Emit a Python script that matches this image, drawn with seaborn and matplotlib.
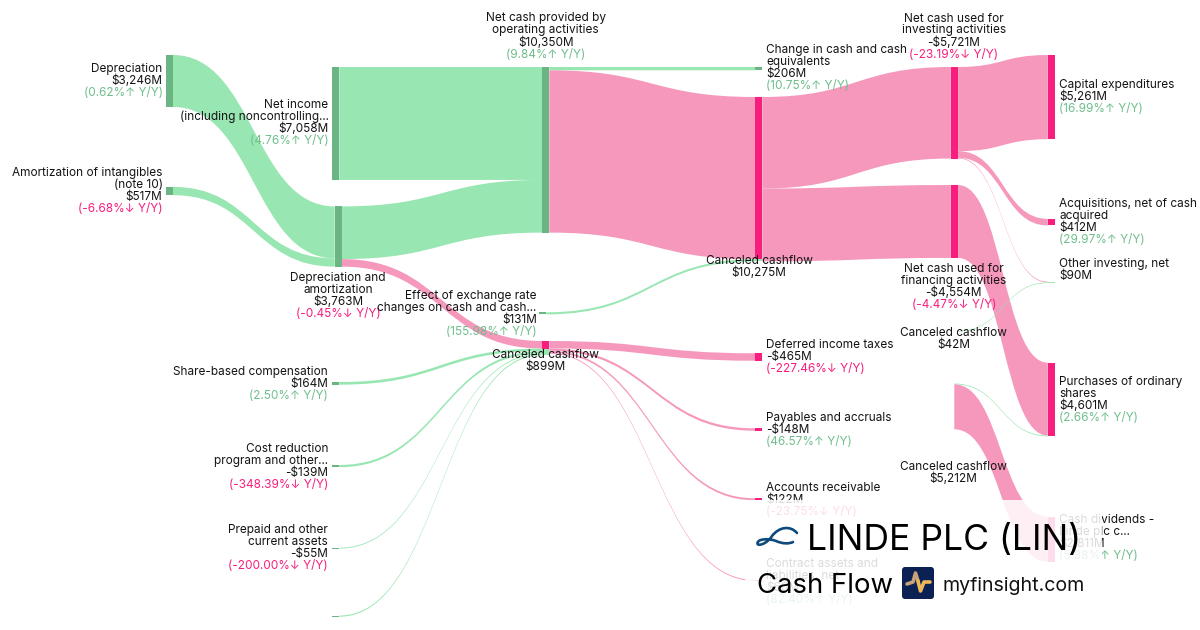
import matplotlib
matplotlib.use('Agg')
import matplotlib.pyplot as plt
from matplotlib.patches import Rectangle, PathPatch, FancyBboxPatch
from matplotlib.path import Path
import seaborn as sns

sns.set_theme(style='white')
plt.rcParams['font.family'] = ['Inter', 'DejaVu Sans']

# Data: values in $M, as printed on the chart
node_names = [
    'dep', 'amort', 'net_income', 'dna', 'sbc', 'cost', 'prepaid', 'other_op',
    'op', 'fx', 'c899', 'change', 'c10275', 'deferred', 'payables', 'ar', 'contract',
    'investing', 'financing', 'c42', 'c5212',
    'capex', 'acq', 'other_inv', 'buyback', 'dividends',
]
node_amounts = [
    3246, 517, 7058, 3763, 164, -139, -55, 70,
    10350, 131, 899, 206, 10275, -465, -148, 122, 60,
    -5721, -4554, 42, 5212,
    5261, 412, 90, 4601, 2811,
]
node_yoy = [
    0.62, -6.68, 4.76, -0.45, 2.50, -348.39, -200.00, None,
    9.84, 155.98, None, 10.75, None, -227.46, 46.57, -23.75, 82.40,
    -23.19, -4.47, None, None,
    16.99, 29.97, None, 2.66, 5.88,
]
node_titles = {
    'dep': 'Depreciation',
    'amort': 'Amortization of intangibles\n(note 10)',
    'net_income': 'Net income\n(including noncontrolling...',
    'dna': 'Depreciation and\namortization',
    'sbc': 'Share-based compensation',
    'cost': 'Cost reduction\nprogram and other...',
    'prepaid': 'Prepaid and other\ncurrent assets',
    'op': 'Net cash provided by\noperating activities',
    'fx': 'Effect of exchange rate\nchanges on cash and cash...',
    'c899': 'Canceled cashflow',
    'change': 'Change in cash and cash\nequivalents',
    'c10275': 'Canceled cashflow',
    'deferred': 'Deferred income taxes',
    'payables': 'Payables and accruals',
    'ar': 'Accounts receivable',
    'contract': 'Contract assets and\nliabilities, net',
    'investing': 'Net cash used for\ninvesting activities',
    'financing': 'Net cash used for\nfinancing activities',
    'c42': 'Canceled cashflow',
    'c5212': 'Canceled cashflow',
    'capex': 'Capital expenditures',
    'acq': 'Acquisitions, net of cash\nacquired',
    'other_inv': 'Other investing, net',
    'buyback': 'Purchases of ordinary\nshares',
    'dividends': 'Cash dividends -\nLinde plc c...',
}

link_sources = ['dep', 'amort', 'net_income', 'dna', 'dna', 'sbc', 'cost', 'prepaid', 'other_op',
                'op', 'op', 'fx', 'c899', 'c899', 'c899', 'c899',
                'c10275', 'c10275', 'investing', 'investing', 'investing',
                'financing', 'c42', 'c5212', 'c5212']
link_targets = ['dna', 'dna', 'op', 'op', 'c899', 'c899', 'c899', 'c899', 'c899',
                'change', 'c10275', 'c10275', 'deferred', 'payables', 'ar', 'contract',
                'investing', 'financing', 'capex', 'acq', 'other_inv',
                'buyback', 'other_inv', 'buyback', 'dividends']
link_values = [3246, 517, 7058, 3292, 471, 164, 139, 55, 70,
               206, 10144, 131, 465, 148, 122, 60,
               5721, 4554, 5261, 412, 48,
               4554, 42, 47, 2811]
link_kinds = ['g', 'g', 'g', 'g', 'p', 'g', 'g', 'g', 'g',
              'g', 'p', 'g', 'p', 'p', 'p', 'p',
              'p', 'p', 'p', 'p', 'p',
              'p', 'g', 'g', 'p']

# Layout: (node, x, gap above it) per column, in pixels
SCALE = 0.016
NODE_W = 7.3
columns = [
    [('dep', 165.7, 55), ('amort', 165.7, 80)],
    [('net_income', 332, 67), ('dna', 334.7, 26.5), ('sbc', 332, 115.4), ('cost', 332, 80.3),
     ('prepaid', 332, 80.5), ('other_op', 332, 67)],
    [('op', 542, 67), ('fx', 539, 79.7), ('c899', 542, 26.6)],
    [('change', 755, 67), ('c10275', 755, 26.7), ('deferred', 755, 91.9), ('payables', 755, 67.6),
     ('ar', 755, 67.6), ('contract', 755, 79.7)],
    [('investing', 950.8, 67), ('financing', 950.8, 26.5), ('c42', 950.8, 73), ('c5212', 947, 52)],
    [('capex', 1047.8, 55), ('acq', 1047.8, 79.7), ('other_inv', 1047.8, 56.2),
     ('buyback', 1047.8, 79.6), ('dividends', 1047.8, 80.4)],
]
hidden_nodes = ['c42', 'c5212']

# Label placement: node -> (anchor, x, centre of first line)
label_pos = {
    'dep': ('right', 162.5, 68), 'amort': ('right', 162.5, 172),
    'net_income': ('right', 328.5, 104), 'dna': ('center', 338, 277),
    'sbc': ('right', 328, 370.7), 'cost': ('right', 328, 448), 'prepaid': ('right', 328, 529),
    'op': ('center', 545.7, 17.5), 'fx': ('right', 536.7, 295), 'c899': ('center', 545.7, 353.7),
    'change': ('left', 766, 48.7), 'c10275': ('center', 759, 260),
    'deferred': ('left', 766, 343.7), 'payables': ('left', 766, 416.7),
    'ar': ('left', 766, 486.7), 'contract': ('left', 766, 562.7),
    'investing': ('center', 953.7, 17.5), 'financing': ('center', 953.7, 267.7),
    'c42': ('center', 953.7, 331.7), 'c5212': ('center', 953.7, 465.7),
    'capex': ('left', 1059, 83.7), 'acq': ('left', 1059, 203), 'other_inv': ('left', 1059, 262.7),
    'buyback': ('left', 1059, 380.7), 'dividends': ('left', 1059, 519.3),
}

link_colors = {'g': '#98E6B2', 'p': '#F598BC'}
node_colors = {'g': '#6AB583', 'p': '#F81E7E'}
TEXT_GREEN = '#6FBE8C'
TEXT_PINK = '#F81E7E'
TEXT_DARK = '#141414'
LINE_H = 12
FONT = 8.5

fig, ax = plt.subplots(figsize=(12, 6.3), dpi=100)
fig.subplots_adjust(0, 0, 1, 1)
ax.set_xlim(0, 1200)
ax.set_ylim(630, 0)
ax.set(xticks=[], yticks=[])
sns.despine(ax=ax, left=True, bottom=True)

amounts = dict(zip(node_names, node_amounts))
yoys = dict(zip(node_names, node_yoy))

# stack the nodes of each column
node_x, node_top = {}, {}
for col in columns:
    y = 0
    for name, x, gap in col:
        node_x[name] = x
        node_top[name] = y + gap
        y = node_top[name] + abs(amounts[name]) * SCALE

# links
out_off = {n: 0 for n in node_names}
in_off = {n: 0 for n in node_names}
incoming = {n: [] for n in node_names}
outgoing_kind = {}
for src, dst, val, kind in zip(link_sources, link_targets, link_values, link_kinds):
    h = val * SCALE
    x0 = node_x[src] + NODE_W
    x1 = node_x[dst]
    y0 = node_top[src] + out_off[src]
    y1 = node_top[dst] + in_off[dst]
    xm = (x0 + x1) / 2
    verts = [(x0, y0), (xm, y0), (xm, y1), (x1, y1),
             (x1, y1 + h),
             (xm, y1 + h), (xm, y0 + h), (x0, y0 + h),
             (x0, y0)]
    codes = [Path.MOVETO, Path.CURVE4, Path.CURVE4, Path.CURVE4,
             Path.LINETO,
             Path.CURVE4, Path.CURVE4, Path.CURVE4,
             Path.CLOSEPOLY]
    ax.add_patch(PathPatch(Path(verts, codes), fc=link_colors[kind], ec='none', zorder=1))
    incoming[dst].append((in_off[dst], h, kind))
    outgoing_kind.setdefault(src, kind)
    out_off[src] += h
    in_off[dst] += h

# nodes
for name in node_names:
    if name in hidden_nodes:
        continue
    kinds = set(k for _, _, k in incoming[name])
    if len(kinds) > 1:
        # canceled parts show the colour of what flows in
        for off, h, kind in incoming[name]:
            c = node_colors['p'] if kind == 'p' else link_colors['g']
            ax.add_patch(Rectangle((node_x[name], node_top[name] + off), NODE_W, h, fc=c, ec='none', zorder=2))
    else:
        kind = kinds.pop() if kinds else outgoing_kind[name]
        h = abs(amounts[name]) * SCALE
        ax.add_patch(Rectangle((node_x[name], node_top[name]), NODE_W, h, fc=node_colors[kind], ec='none', zorder=2))

# labels
for name, (ha, x, y) in label_pos.items():
    amt = amounts[name]
    lines = node_titles[name].split('\n')
    amt_txt = f'-${abs(amt):,}M' if amt < 0 else f'${amt:,}M'
    rows = [(t, TEXT_DARK) for t in lines] + [(amt_txt, TEXT_DARK)]
    if yoys[name] is not None:
        v = yoys[name]
        arrow = '↑' if v >= 0 else '↓'
        rows.append((f'({v:.2f}%{arrow} Y/Y)', TEXT_GREEN if v >= 0 else TEXT_PINK))
    for i, (t, c) in enumerate(rows):
        ax.text(x, y + i * LINE_H + 4, t, ha=ha, va='baseline', fontsize=FONT, color=c, zorder=3)

# translucent panel behind the title
ax.add_patch(Rectangle((745, 500), 357, 110, fc='white', ec='none', alpha=0.85, zorder=4))

ax.text(807, 550, 'LINDE PLC (LIN)', fontsize=25.6, color='black', va='baseline', zorder=5)
ax.text(757, 593, 'Cash Flow', fontsize=19.8, color='black', va='baseline', zorder=5)
ax.text(942, 591, 'myfinsight.com', fontsize=14.1, color='#111111', va='baseline', zorder=5)

# Linde swoosh
swoosh = [(797, 533), (790, 525), (779, 527), (772, 536),
          (767, 544), (757, 547), (757.5, 543),
          (758, 539), (768, 538), (776, 541),
          (783, 544), (789, 544), (793, 542)]
swoosh_codes = [Path.MOVETO] + [Path.CURVE4] * 12
ax.add_patch(PathPatch(Path(swoosh, swoosh_codes), fc='none', ec='#0E4A7B', lw=1.9, capstyle='round', zorder=5))

# myfinsight badge
ax.add_patch(FancyBboxPatch((904, 569), 28, 28, boxstyle='round,pad=2,rounding_size=3',
                            fc='#0B2154', ec='none', zorder=5))
ax.plot([907, 913, 915.5, 918], [584, 582, 573, 581], color='#C9A27A', lw=2.6,
        solid_capstyle='round', solid_joinstyle='round', zorder=6)
ax.plot([918, 920.5, 924, 930], [581, 591, 582, 582], color='#EDB858', lw=2.6,
        solid_capstyle='round', solid_joinstyle='round', zorder=6)

fig.savefig('out.png', dpi=100)
